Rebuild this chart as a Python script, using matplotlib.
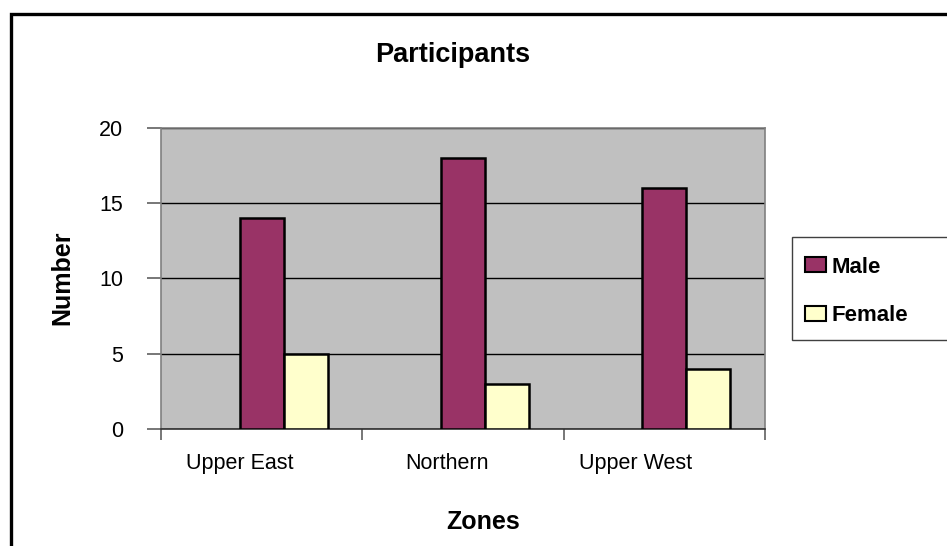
import matplotlib
matplotlib.use("Agg")
import matplotlib.pyplot as plt
from matplotlib.patches import Rectangle, Patch
import numpy as np

categories = ["Upper East", "Northern", "Upper West"]
male = [14, 18, 16]
female = [5, 3, 4]
series_names = ["Male", "Female"]
y_ticks = [0, 5, 10, 15, 20]

plt.rcParams['font.family'] = ['Liberation Sans', 'DejaVu Sans']

W, H = 947, 546
fig = plt.figure(figsize=(W / 100, H / 100), dpi=100)
fig.patch.set_facecolor("white")

# outer chart frame (extends beyond right/bottom edges)
fig.patches.append(Rectangle((11 / W, -0.2), 1.5, 1.2 - 14 / H,
                             transform=fig.transFigure, fill=False,
                             edgecolor="black", linewidth=2.4))

ax = fig.add_axes([161 / W, 1 - 429 / H, (765 - 161) / W, (429 - 128) / H])
ax.set_facecolor("#C0C0C0")

x = np.arange(len(categories))
w = 0.219
male_color = "#993366"
female_color = "#FFFFCC"
ax.bar(x, male, width=w, color=male_color, edgecolor="black", linewidth=1.8, zorder=3)
ax.bar(x + w, female, width=w, color=female_color, edgecolor="black", linewidth=1.8, zorder=3)

ax.set_xlim(-0.5, len(categories) - 0.5)
ax.set_ylim(0, 20)
ax.set_yticks(y_ticks)
ax.yaxis.grid(True, color="black", linewidth=1.0, zorder=1)
ax.set_axisbelow(True)

for s in ["left", "right", "top"]:
    ax.spines[s].set_color("#808080")
    ax.spines[s].set_linewidth(1.2)
ax.spines["bottom"].set_color("#303030")
ax.spines["bottom"].set_linewidth(1.2)

ax.tick_params(axis="y", direction="out", length=10, width=1.2, color="#606060",
               labelsize=15.5, pad=17)
# category labels (major ticks, no marks) and boundary tick marks (minor)
label_offsets = [-0.11, -0.08, -0.145]
ax.set_xticks(x + np.array(label_offsets))
ax.set_xticklabels(categories)
ax.set_xticks(np.arange(len(categories) + 1) - 0.5, minor=True)
ax.tick_params(axis="x", which="major", length=0, labelsize=15.5, pad=17)
ax.tick_params(axis="x", which="minor", direction="out", length=8, width=1.2, color="#606060")

fig.text(453 / W, 1 - 55 / H, "Participants", ha="center", va="center",
         fontsize=19.5, fontweight="bold")
fig.text(62 / W, 1 - 278 / H, "Number", ha="center", va="center", rotation=90,
         fontsize=18, fontweight="bold")
fig.text(483 / W, 1 - 522 / H, "Zones", ha="center", va="center",
         fontsize=18, fontweight="bold")

# legend frame extends past right edge
fig.patches.append(Rectangle((792 / W, 1 - 340 / H), 0.5, (340 - 237) / H,
                             transform=fig.transFigure, facecolor="white",
                             edgecolor="#404040", linewidth=1.0))
handles = [Patch(facecolor=male_color, edgecolor="black", linewidth=1.5),
           Patch(facecolor=female_color, edgecolor="black", linewidth=1.5)]
leg = fig.legend(handles, series_names, loc="center left",
                 bbox_to_anchor=(805 / W, 1 - 291.5 / H), frameon=False,
                 prop={"size": 16, "weight": "bold"}, handlelength=0.95,
                 handleheight=0.64, handletextpad=0.25, labelspacing=1.25,
                 borderpad=0, borderaxespad=0)

fig.savefig("out.png", dpi=100)
